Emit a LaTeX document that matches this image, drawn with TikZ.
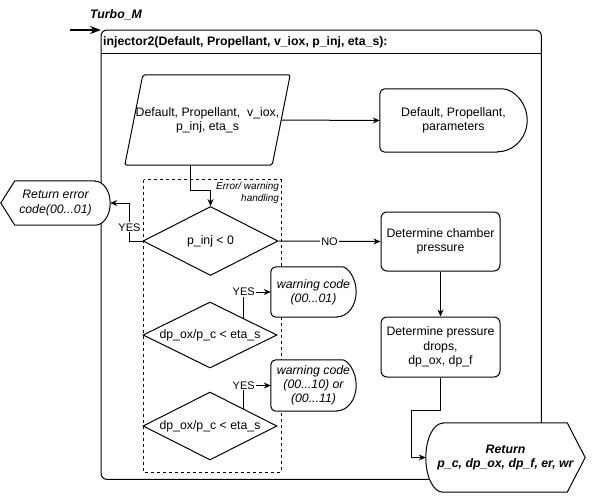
\documentclass[tikz,border=0pt]{standalone}
\usepackage{fontspec}
\setmainfont{Liberation Sans}
\usetikzlibrary{shapes.geometric,calc,arrows.meta,backgrounds}
\newcommand{\fsz}{\fontsize{12.3}{14.3}\selectfont}
\begin{document}
\begin{tikzpicture}[x=1pt,y=-1pt,
  base/.style={font=\fsz, align=center, inner sep=0pt},
  shp/.style={draw=black, fill=white, line width=1pt},
  rbox/.style={base, draw=black, fill=white, line width=1pt, rounded corners=6pt},
  dia/.style={base, diamond, draw=black, fill=white, line width=1pt, aspect=2, minimum width=135pt, minimum height=68pt},
  arr/.style={line width=1pt, -{Stealth[length=7pt,width=6pt]}},
  lbl/.style={font=\fontsize{11}{13}\selectfont, fill=white, inner sep=1pt}
]
\useasboundingbox (0,0) rectangle (594,496);

% texts and nodes
\node[base, font=\fsz\bfseries\itshape] (turbo) at (116,15) {Turbo\_M};
\node[inner sep=0, minimum width=440pt, minimum height=449pt, anchor=north west] (frame) at (101,30) {};
\node[base, font=\fsz\bfseries, anchor=west] (hdr) at (103,42) {injector2(Default, Propellant, v\_iox, p\_inj, eta\_s):};
\coordinate (tstart) at (70,30);

\node[inner sep=0, minimum width=137pt, minimum height=292pt] (grp) at (212.5,326) {};
\node[font=\fontsize{10}{12}\selectfont\itshape, align=right, anchor=north east, inner sep=2pt] (grplbl) at (grp.north east) {Error/ warning\\handling};

\node[base, minimum width=147pt, minimum height=90pt] (par) at (207.5,120) {Default, Propellant,\ \ v\_iox,\\p\_inj, eta\_s};
\node[base, minimum width=147pt, minimum height=63pt] (pp) at (453.5,120.5) {Default, Propellant,\\parameters};
\node[base, font=\fsz\itshape, minimum width=109pt, minimum height=44pt] (err) at (55.5,203) {Return error\\code(00...01)};

\node[dia, minimum height=69pt] (d1) at (210.5,241) {p\_inj < 0};
\node[dia, minimum height=66pt, minimum width=134pt] (d2) at (210,335) {dp\_ox/p\_c < eta\_s};
\node[dia, minimum width=134pt] (d3) at (210,426) {dp\_ox/p\_c < eta\_s};

\node[base, font=\fsz\itshape, minimum width=85pt, minimum height=50pt] (w1) at (313.5,292) {warning code\\(00...01)};
\node[base, font=\fsz\itshape, minimum width=85pt, minimum height=51pt] (w2) at (313.5,385.5) {warning code\\(00...10) or\\(00...11)};

\node[rbox, minimum width=119pt, minimum height=59pt] (dcp) at (440.5,241.5) {Determine chamber\\pressure};
\node[rbox, minimum width=119pt, minimum height=60pt] (dpd) at (440.5,347) {Determine pressure\\drops,\\dp\_ox, dp\_f};

\node[base, font=\fsz\bfseries\itshape, minimum width=159pt, minimum height=69pt] (ret) at (505.5,457.5) {Return\\p\_c, dp\_ox, dp\_f, er, wr};

% outlines behind texts
\begin{pgfonlayer}{background}
  \draw[line width=1pt, rounded corners=6pt] (frame.north west) rectangle (frame.south east);
  \draw[line width=1pt] ($(frame.north west)+(0,23)$) -- ($(frame.north east)+(0,23)$);
  \draw[dashed, line width=0.8pt] (grp.north west) rectangle (grp.south east);
  \filldraw[shp, rounded corners=2pt] ($(par.south west)+(-9,0)$) -- ($(par.north west)+(9,0)$) -- ($(par.north east)+(9,0)$) -- ($(par.south east)+(-9,0)$) -- cycle;
  % delay shape: parameters
  \filldraw[shp] ($(pp.south east)+(-30,0)$) [rounded corners=5pt] -- (pp.south west) -- (pp.north west) -- ($(pp.north east)+(-30,0)$) [sharp corners] arc[start angle=-90, end angle=90, x radius=30, y radius=31.5] -- cycle;
  % warning boxes
  \filldraw[shp] ($(w1.south east)+(-19,0)$) [rounded corners=5pt] -- (w1.south west) -- (w1.north west) -- ($(w1.north east)+(-19,0)$) [sharp corners] arc[start angle=-90, end angle=90, x radius=19, y radius=25] -- cycle;
  \filldraw[shp] ($(w2.south east)+(-19,0)$) [rounded corners=5pt] -- (w2.south west) -- (w2.north west) -- ($(w2.north east)+(-19,0)$) [sharp corners] arc[start angle=-90, end angle=90, x radius=19, y radius=25.5] -- cycle;
  % return error (point left, round right)
  \filldraw[shp] ($(err.north east)+(-15,0)$) -- ($(err.north west)+(14,0)$) -- (err.west) -- ($(err.south west)+(14,0)$) -- ($(err.south east)+(-15,0)$) arc[start angle=90, end angle=-90, x radius=15, y radius=22] -- cycle;
  % return (round left, point right)
  \filldraw[shp] ($(ret.north west)+(17,0)$) -- ($(ret.north east)+(-18,0)$) -- (ret.east) -- ($(ret.south east)+(-18,0)$) -- ($(ret.south west)+(17,0)$) arc[start angle=90, end angle=270, x radius=17, y radius=34.5] -- cycle;
\end{pgfonlayer}

% connectors
\draw[line width=1.6pt, -{Stealth[length=11pt,width=8pt]}] (tstart) -- (frame.north west);
\draw[arr] (par.east) -- (pp.west);
\draw[arr] ([xshift=-17.5pt]par.south) -- ++(0,25) -| (d1.north);
\draw[arr] (d1.west) -- ++(-13,0) |- node[lbl, pos=0.18] {YES} (err.east);
\draw[arr] (d1.east) -- node[lbl] {NO} (dcp.west);
\draw[arr] (dcp.south) -- (dpd.north);
\draw[arr] (dpd.south) -- ++(0,33) -- ++(-29.5,0) |- (ret.west);
\draw[arr] (d2.north east) |- node[lbl, pos=0.5] {YES} (w1.west);
\draw[arr] (d3.north east) |- node[lbl, pos=0.5] {YES} (w2.west);
\end{tikzpicture}
\end{document}
